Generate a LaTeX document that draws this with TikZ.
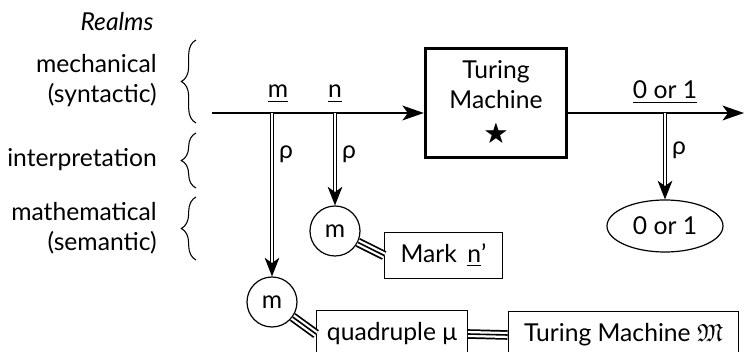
\documentclass[tikz,border=0pt]{standalone}
\usepackage{amssymb}
\usepackage{fontspec}
\setmainfont{Lato}
\usetikzlibrary{arrows.meta, positioning, shapes.geometric, decorations.pathreplacing}

\begin{document}
\begin{tikzpicture}[
            x=0.75pt, y=-0.75pt,               % una unidad = un pixel de la figura
            every node/.style={font=\fontsize{18.5}{22.5}\selectfont, inner sep=0pt},
            realm/.style={anchor=east, align=right},
            machine/.style={
                rectangle,
                draw=black,
                line width=2.2pt,
                align=center,
                minimum width=106pt,
                minimum height=82pt
            },
            thing/.style={
                rectangle,
                draw=black,
                line width=0.9pt,
                minimum height=35pt
            },
            value/.style={circle, draw=black, line width=0.9pt, minimum size=37.5pt},
            line/.style={
                draw,
                line width=2pt,
                -{Stealth[length=16pt, width=11pt, inset=4pt]}
            },
            interp/.style={
                draw,
                double,
                double distance=1.8pt,
                line width=0.75pt,
                -{Stealth[length=14pt, width=11pt, inset=4pt]}
            },
            triple/.style={
                draw=white,
                line width=4.6pt,
                preaction={draw=black, line width=7.2pt},
                postaction={draw=black, line width=1.2pt}
            },
            realmbrace/.style={
                draw,
                line width=0.8pt,
                decorate,
                decoration={brace, amplitude=11pt}
            }
        ]
            \useasboundingbox (0,0) rectangle (744,352);

            % --- REINOS ---
            \node (realms) at (117,22) {\itshape Realms};
            \node [realm] (mech) at (157,81) {mechanical\\(syntactic)};
            \node [realm] (interpr) at (157,160) {interpretation};
            \node [realm] (math) at (157,228) {mathematical\\(semantic)};

            \path [realmbrace] (196,123) -- (196,40);
            \path [realmbrace] (196,188) -- (196,133);
            \path [realmbrace] (196,260) -- (196,197);

            % --- NODOS ---
            \node [machine] (tm) at (496,103) {Turing\\Machine\\[2pt]$\bigstar$};
            \coordinate (start) at (212,113);
            \coordinate (finish) at (744,113);
            \coordinate (mtap) at (272,113);
            \coordinate (ntap) at (335,113);
            \coordinate (otap) at (665,113);

            \node (mlabel) at (278,94) {\underline{m}};
            \node (nlabel) at (335,94) {\underline{n}};
            \node (olabel) at (665,92) {\underline{0 or 1}};

            \node [value] (nval) at (335,231) {m};
            \node [value] (mval) at (272,302) {m};
            \node [ellipse, draw, line width=0.9pt, minimum width=87pt, minimum height=39pt] (oval) at (665,226) {0 or 1};

            \node [thing, minimum width=88pt] (mark) at (443.5,255.5) {Mark \,\underline{n}'};
            \node [thing, minimum width=113pt] (quad) at (392,334) {quadruple μ};
            \node [thing, minimum width=173pt] (tmm) at (623.5,335) {Turing Machine $\mathfrak{M}$};

            % --- ENLACES ---
            \path [line] (start) -- (tm.west |- start);
            \path [line] (tm.east |- finish) -- (finish);

            \path [interp] (mtap) -- node[right=5pt, pos=0.25] {ρ} (mval.north);
            \path [interp] (ntap) -- node[right=5pt, pos=0.45] {ρ} (nval.north);
            \path [interp] (otap) -- node[right=5pt, pos=0.43] {ρ} (oval.north);

            \path [triple] (nval) -- (mark.west);
            \path [triple] (mval) -- (quad.west);
            \path [triple] (quad.east) -- (tmm.west);
        \end{tikzpicture}
\end{document}
